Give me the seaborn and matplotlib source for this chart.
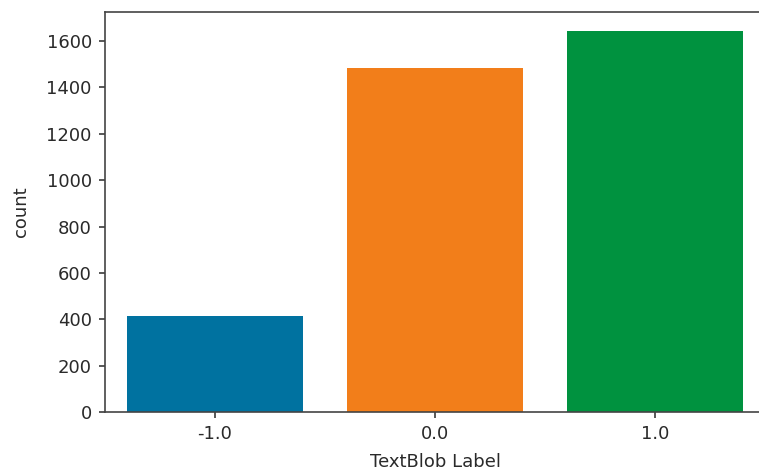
import pandas as pd
import matplotlib
matplotlib.use('Agg')
import matplotlib.pyplot as plt
import seaborn as sns

# data
labels = ['-1.0', '0.0', '1.0']
counts = [413, 1482, 1643]
bar_colors = ['#0072A0', '#F27E1A', '#00923F']

df = pd.DataFrame({'TextBlob Label': labels, 'count': counts})

plt.rcParams['font.family'] = ['DejaVu Sans']
fig = plt.figure(figsize=(7.59, 4.71), dpi=100)
# the reference is cropped on the right, so the axes run past the figure edge
ax = fig.add_axes([0.1383, 0.1253, 1.008 - 0.1383, 0.9745 - 0.1253])

sns.barplot(data=df, x='TextBlob Label', y='count', hue='TextBlob Label',
            palette=bar_colors, saturation=1, legend=False, ax=ax, width=0.8)

ax.set_ylim(0, max(counts) * 1.05)
ax.tick_params(labelsize=13, colors='#2a2a2a', length=4.5, width=1.1, pad=5)
ax.set_xlabel('TextBlob Label', fontsize=13, color='#2a2a2a', labelpad=7)
ax.set_ylabel('count', fontsize=13, color='#2a2a2a', labelpad=12)
for s in ax.spines.values():
    s.set_color('#444444')
    s.set_linewidth(1.2)
ax.spines['right'].set_visible(False)

fig.savefig('out.png', dpi=100)
